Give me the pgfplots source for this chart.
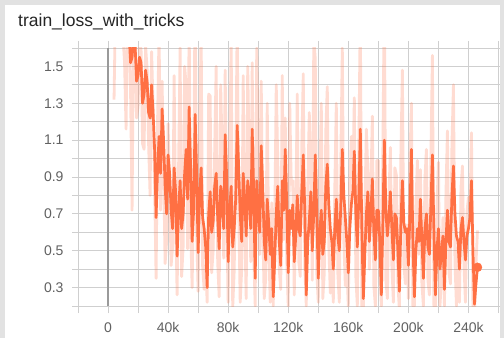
\documentclass[border=0pt]{standalone}
\usepackage{fontspec}
\setmainfont{Liberation Sans}
\usepackage{pgfplots}
\pgfplotsset{compat=1.18}
\usepackage{pgfplotstable}
\definecolor{tborange}{HTML}{FF7043}
\definecolor{tbgrid}{HTML}{CFCFCF}
\definecolor{tbzero}{HTML}{9A9A9A}
\definecolor{tbtext}{HTML}{616161}
\definecolor{tbbg}{HTML}{E2E2E2}

\pgfplotstableread{
x raw smooth
4 1.32 1.90
5 1.86 1.88
6 1.80 1.85
7 1.75 1.80
8 1.71 1.78
9 1.72 1.75
10 1.66 1.72
11 1.52 1.62
12 1.16 1.62
13 1.82 1.72
14 1.74 1.68
15 1.36 1.52
16 0.72 1.55
17 1.75 1.65
18 1.69 1.62
19 1.22 1.42
20 1.28 1.45
21 1.65 1.55
22 1.59 1.52
23 1.08 1.30
24 1.05 1.35
25 1.61 1.48
26 1.49 1.42
27 1.08 1.25
28 0.80 1.22
29 1.58 1.40
30 1.28 1.25
31 0.85 1.05
32 0.35 0.68
33 1.22 0.95
34 1.70 1.12
35 0.72 0.92
36 1.42 1.27
37 0.93 1.10
38 0.43 0.85
39 0.55 0.70
40 1.19 1.02
41 0.82 0.92
42 0.42 0.72
43 0.52 0.62
44 1.45 0.95
45 0.69 0.82
46 0.26 0.47
47 0.97 0.72
48 1.60 0.88
49 0.36 0.62
50 0.52 0.70
51 1.50 0.92
52 1.40 1.05
53 0.51 0.78
54 1.75 1.28
55 0.62 0.95
56 0.30 0.55
57 0.89 0.72
58 1.93 1.24
59 0.60 0.92
60 0.28 0.49
61 1.11 0.80
62 1.70 0.95
63 0.41 0.68
64 0.29 0.62
65 0.42 0.52
66 0.22 0.30
67 1.35 0.70
68 1.34 0.82
69 0.38 0.60
70 0.50 0.66
71 1.04 0.85
72 1.50 0.92
73 0.44 0.68
74 0.25 0.51
75 1.40 0.85
76 1.05 0.78
77 0.46 0.62
78 1.48 1.13
79 0.67 0.90
80 0.22 0.44
81 1.00 0.72
82 1.65 0.85
83 0.19 0.52
84 0.39 0.62
85 0.94 0.78
86 1.74 1.18
87 0.72 0.95
88 0.22 0.70
89 0.40 0.55
90 1.45 0.92
91 0.64 0.78
92 0.24 0.58
93 1.50 0.88
94 1.02 0.80
95 0.44 0.62
96 1.52 1.16
97 0.48 0.82
98 0.20 0.35
99 1.60 0.88
100 1.09 0.72
101 0.48 0.60
102 1.42 1.07
103 0.63 0.85
104 0.24 0.55
105 0.35 0.45
106 1.30 0.78
107 0.52 0.65
108 0.22 0.48
109 0.76 0.62
110 0.20 0.25
111 0.65 0.45
112 1.40 0.70
113 1.00 0.85
114 0.40 0.55
115 0.29 0.42
116 1.45 0.88
117 0.56 0.72
118 1.22 1.05
119 0.45 0.75
120 0.20 0.38
121 1.30 0.72
122 0.86 0.62
123 0.88 0.75
124 0.26 0.44
125 0.72 0.58
126 1.35 0.80
127 0.44 0.62
128 0.36 0.58
129 1.06 0.82
130 1.46 1.02
131 0.42 0.72
132 0.20 0.26
133 0.84 0.55
134 1.25 0.66
135 0.98 0.82
136 0.34 0.50
137 1.65 0.70
138 1.54 1.02
139 0.38 0.70
140 0.22 0.35
141 0.85 0.60
142 1.30 0.72
143 0.24 0.48
144 0.38 0.55
145 1.15 0.85
146 1.39 0.97
147 0.53 0.75
148 0.27 0.62
149 0.48 0.55
150 0.22 0.40
151 0.84 0.62
152 1.30 0.78
153 0.38 0.58
154 0.22 0.50
155 1.00 0.75
156 1.60 1.05
157 0.55 0.80
158 0.31 0.68
159 0.42 0.55
160 0.20 0.38
161 0.86 0.62
162 1.12 0.75
163 0.89 0.82
164 1.33 1.04
165 0.36 0.70
166 0.20 0.52
167 1.08 0.80
168 1.80 1.16
169 0.20 0.62
170 0.18 0.24
171 0.72 0.48
172 1.16 0.70
173 0.94 0.82
174 0.40 0.55
175 0.85 0.70
176 1.23 0.89
177 0.31 0.60
178 0.20 0.45
179 0.99 0.72
180 0.99 0.72
181 0.38 0.55
182 0.20 0.26
183 1.04 0.65
184 1.94 1.10
185 0.34 0.72
186 0.24 0.58
187 0.78 0.68
188 1.06 0.82
189 0.42 0.62
190 0.22 0.45
191 0.95 0.70
192 0.91 0.68
193 0.32 0.50
194 0.18 0.28
195 1.02 0.65
196 1.48 0.88
197 0.42 0.65
198 0.32 0.60
199 0.64 0.62
200 0.24 0.42
201 0.98 0.70
202 1.30 1.05
203 0.20 0.55
204 0.20 0.25
205 0.75 0.50
206 0.99 0.62
207 0.48 0.55
208 0.94 0.78
209 0.32 0.55
210 0.20 0.35
211 0.89 0.62
212 1.05 0.70
213 0.34 0.52
214 0.26 0.48
215 1.02 0.75
216 1.56 1.02
217 0.18 0.60
218 0.20 0.26
219 0.74 0.50
220 0.98 0.62
221 0.20 0.40
222 0.34 0.48
223 0.68 0.58
224 0.20 0.29
225 0.81 0.55
226 1.15 0.72
227 0.38 0.55
228 0.32 0.52
229 1.08 0.80
230 1.40 0.96
231 0.44 0.70
232 0.20 0.58
233 0.52 0.55
234 0.22 0.40
235 0.84 0.62
236 0.96 0.68
237 0.42 0.55
238 0.22 0.45
239 0.71 0.58
240 0.79 0.62
241 0.74 0.68
242 1.14 0.88
243 0.18 0.50
244 0.15 0.21
245 0.43 0.32
246 0.61 0.41
}\loss

\begin{document}
\begin{tikzpicture}[x=1pt,y=1pt]
\useasboundingbox (0,0) rectangle (504,338);
\fill[tbbg] (0,0) rectangle (504,338);
\fill[white] (5,0) rectangle (500,333);
\node[anchor=base west, inner sep=0pt, font=\fontsize{17.5}{20}\selectfont, text=black!85] at (18,311) {train\_loss\_with\_tricks};
\begin{axis}[
  at={(72pt,32pt)}, anchor=south west,
  scale only axis, width=428pt, height=258pt,
  xmin=-24, xmax=261, ymin=0.2, ymax=1.6,
  axis line style={draw=none},
  xtick={-20,0,20,...,260},
  xticklabels={,0,,40k,,80k,,120k,,160k,,200k,,240k,,},
  ytick={0.2,0.3,...,1.6},
  yticklabels={,0.3,,0.5,,0.7,,0.9,,1.1,,1.3,,1.5,},
  grid=major,
  grid style={tbgrid, line width=0.9pt},
  xtick align=outside,
  major tick length=7pt,
  xtick style={tbgrid, line width=0.9pt},
  ytick style={draw=none},
  tick label style={font=\fontsize{14}{16}\selectfont, text=tbtext},
  yticklabel style={xshift=-5pt},
  xticklabel style={yshift=-6pt},
  extra x ticks={0},
  extra x tick labels={},
  extra x tick style={grid style={tbzero, line width=1.5pt}, tick style={tbzero, line width=1.5pt}},
  clip mode=individual,
]
\addplot[tborange, opacity=0.24, line width=2.8pt, line join=round] table[x=x, y=raw] {\loss};
\addplot[tborange, line width=2.7pt, line join=round] table[x=x, y=smooth] {\loss};
\addplot[only marks, mark=*, mark size=4.5pt, tborange, mark options={fill=tborange}] coordinates {(246,0.41)};
\end{axis}
\end{tikzpicture}
\end{document}
